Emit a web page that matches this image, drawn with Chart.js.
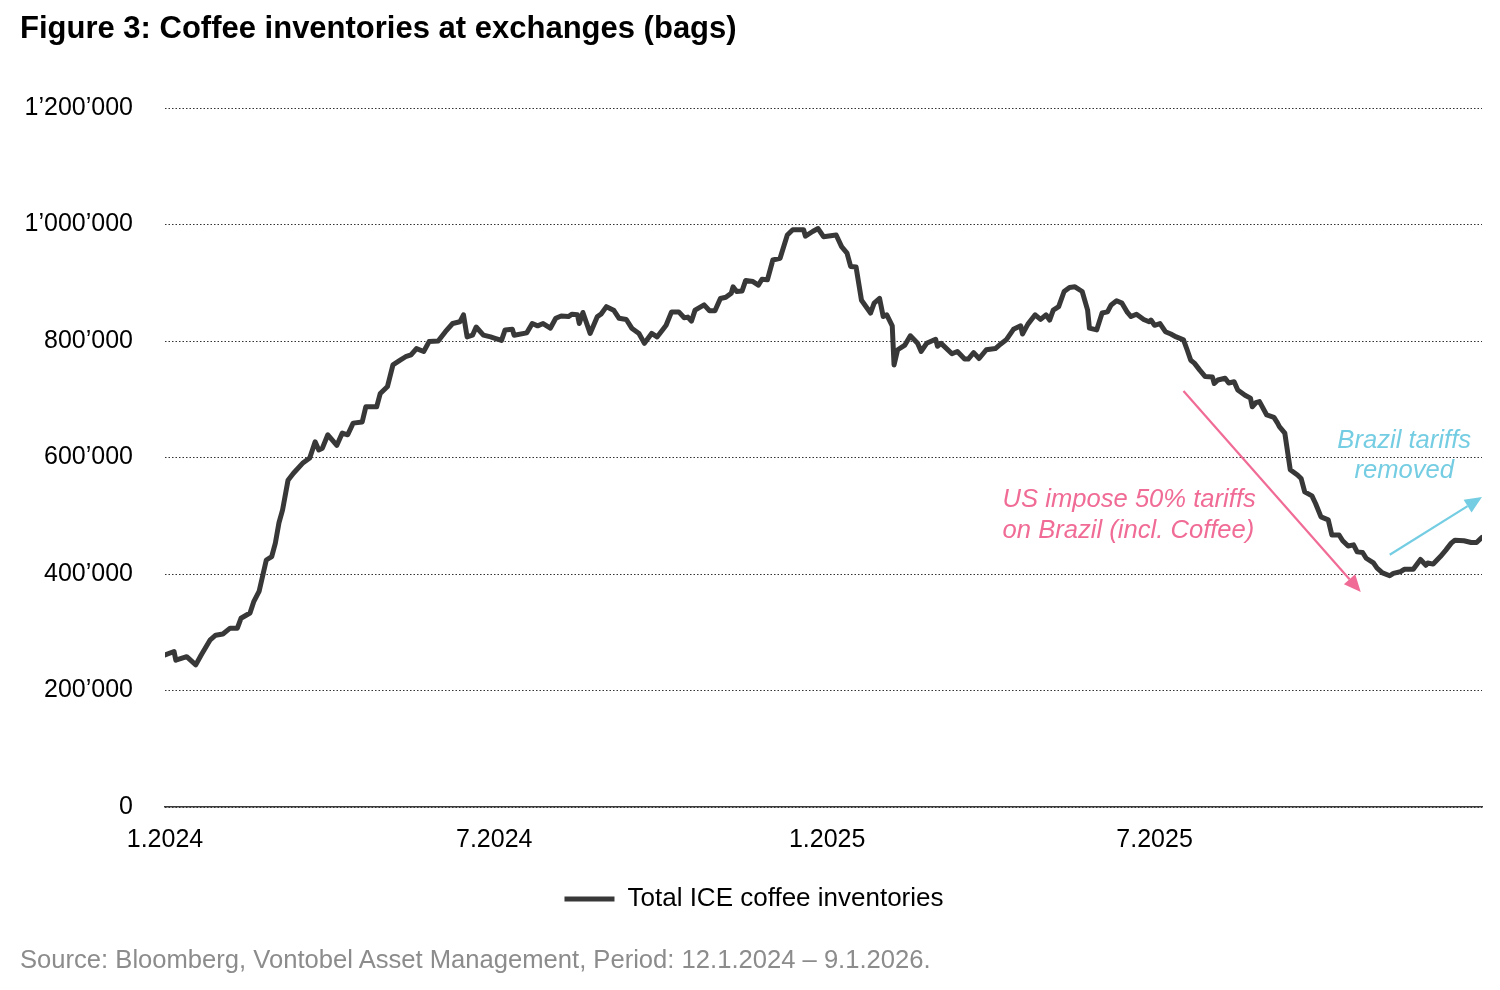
<!DOCTYPE html>
<html>
<head>
<meta charset="utf-8">
<script src="https://cdn.jsdelivr.net/npm/chart.js@4.4.1/dist/chart.umd.min.js"></script>
<style>
  html, body { margin: 0; padding: 0; background: #ffffff; }
  #wrap { position: relative; width: 1500px; height: 990px; overflow: hidden; background: #ffffff; }
  #chart { position: absolute; left: 0; top: 0; }
  #title { position: absolute; left: 20px; top: 10px; font: bold 31px "Liberation Sans", Arial, sans-serif; color: #000; white-space: nowrap; }
  #source { position: absolute; left: 20px; top: 945px; font: 25.6px "Liberation Sans", Arial, sans-serif; color: #8c8c8c; white-space: nowrap; }
</style>
</head>
<body>
<div id="wrap">
  <canvas id="chart" width="1500" height="990"></canvas>
  <div id="title">Figure 3: Coffee inventories at exchanges (bags)</div>
  <div id="source">Source: Bloomberg, Vontobel Asset Management, Period: 12.1.2024 – 9.1.2026.</div>
</div>
<script>
// ---------------- data ----------------
const seriesLabel = 'Total ICE coffee inventories';

const dates = [
  '2024-01-12','2024-01-17','2024-01-18','2024-01-24','2024-01-29','2024-02-01','2024-02-06','2024-02-09','2024-02-13','2024-02-17',
  '2024-02-21','2024-02-23','2024-02-28','2024-03-01','2024-03-04','2024-03-08','2024-03-11','2024-03-13','2024-03-15','2024-03-17',
  '2024-03-20','2024-03-23','2024-03-28','2024-04-01','2024-04-04','2024-04-06','2024-04-08','2024-04-11','2024-04-16','2024-04-19',
  '2024-04-22','2024-04-25','2024-04-30','2024-05-02','2024-05-08','2024-05-10','2024-05-14','2024-05-17','2024-05-21','2024-05-24',
  '2024-05-27','2024-05-30','2024-06-03','2024-06-06','2024-06-11','2024-06-15','2024-06-19','2024-06-23','2024-06-25','2024-06-27',
  '2024-06-30','2024-07-02','2024-07-06','2024-07-10','2024-07-12','2024-07-16','2024-07-18','2024-07-22','2024-07-23','2024-07-30',
  '2024-08-02','2024-08-05','2024-08-08','2024-08-12','2024-08-15','2024-08-18','2024-08-22','2024-08-24','2024-08-27','2024-08-28',
  '2024-08-30','2024-09-03','2024-09-07','2024-09-09','2024-09-12','2024-09-16','2024-09-19','2024-09-23','2024-09-26','2024-09-30',
  '2024-10-03','2024-10-07','2024-10-10','2024-10-13','2024-10-15','2024-10-18','2024-10-22','2024-10-25','2024-10-27','2024-10-29',
  '2024-10-31','2024-11-05','2024-11-08','2024-11-11','2024-11-14','2024-11-17','2024-11-20','2024-11-21','2024-11-23','2024-11-26',
  '2024-11-28','2024-12-02','2024-12-05','2024-12-07','2024-12-10','2024-12-13','2024-12-17','2024-12-21','2024-12-24','2024-12-30',
  '2024-12-31','2025-01-04','2025-01-07','2025-01-10','2025-01-17','2025-01-20','2025-01-23','2025-01-25','2025-01-28','2025-01-31',
  '2025-02-05','2025-02-07','2025-02-10','2025-02-12','2025-02-14','2025-02-17','2025-02-18','2025-02-20','2025-02-24','2025-02-27',
  '2025-03-03','2025-03-05','2025-03-08','2025-03-13','2025-03-14','2025-03-16','2025-03-22','2025-03-25','2025-03-29','2025-03-31',
  '2025-04-03','2025-04-06','2025-04-10','2025-04-15','2025-04-18','2025-04-21','2025-04-25','2025-04-29','2025-04-30','2025-05-03',
  '2025-05-07','2025-05-10','2025-05-13','2025-05-15','2025-05-17','2025-05-20','2025-05-23','2025-05-26','2025-05-29','2025-06-02',
  '2025-06-05','2025-06-06','2025-06-10','2025-06-13','2025-06-16','2025-06-18','2025-06-21','2025-06-24','2025-06-27','2025-06-29',
  '2025-07-02','2025-07-06','2025-07-09','2025-07-10','2025-07-12','2025-07-15','2025-07-18','2025-07-21','2025-07-24','2025-07-28',
  '2025-07-30','2025-08-01','2025-08-03','2025-08-06','2025-08-09','2025-08-13','2025-08-14','2025-08-16','2025-08-20','2025-08-22',
  '2025-08-25','2025-08-27','2025-08-31','2025-09-03','2025-09-04','2025-09-06','2025-09-08','2025-09-12','2025-09-16','2025-09-18',
  '2025-09-19','2025-09-22','2025-09-25','2025-09-29','2025-10-01','2025-10-03','2025-10-07','2025-10-09','2025-10-12','2025-10-16',
  '2025-10-18','2025-10-22','2025-10-24','2025-10-27','2025-10-30','2025-11-01','2025-11-04','2025-11-06','2025-11-10','2025-11-12',
  '2025-11-15','2025-11-19','2025-11-21','2025-11-25','2025-11-27','2025-12-02','2025-12-06','2025-12-09','2025-12-10','2025-12-13',
  '2025-12-17','2025-12-20','2025-12-23','2025-12-25','2025-12-30','2026-01-03','2026-01-06','2026-01-09'
];

const inventories = [
  261000,267000,252000,258000,244000,261000,287000,295000,297000,307000,
  307000,324000,333000,352000,370000,424000,430000,453000,488000,510000,
  561000,573000,590000,599000,627000,613000,616000,639000,621000,642000,
  639000,659000,661000,687000,687000,710000,722000,759000,767000,773000,
  776000,787000,782000,799000,800000,816000,830000,833000,845000,807000,
  810000,824000,810000,807000,805000,801000,819000,820000,810000,814000,
  830000,826000,830000,822000,839000,843000,842000,846000,845000,830000,
  849000,813000,842000,846000,859000,853000,839000,837000,822000,813000,
  796000,813000,807000,819000,827000,850000,850000,840000,841000,834000,
  853000,862000,852000,852000,873000,875000,882000,893000,885000,886000,
  904000,902000,896000,906000,905000,939000,942000,982000,991000,991000,
  980000,988000,993000,979000,982000,962000,951000,928000,927000,870000,
  848000,865000,873000,842000,845000,826000,759000,785000,793000,809000,
  796000,782000,796000,803000,791000,796000,778000,782000,769000,769000,
  780000,770000,785000,787000,795000,802000,820000,826000,812000,829000,
  845000,837000,845000,836000,853000,859000,885000,892000,893000,885000,
  853000,822000,819000,848000,850000,862000,869000,865000,849000,842000,
  846000,837000,833000,836000,827000,830000,816000,812000,807000,802000,
  785000,767000,762000,750000,739000,738000,727000,733000,736000,728000,
  730000,716000,707000,702000,687000,694000,696000,673000,669000,659000,
  653000,642000,579000,570000,564000,541000,534000,521000,498000,493000,
  467000,467000,457000,448000,450000,438000,437000,427000,419000,410000,
  402000,397000,401000,404000,408000,408000,425000,415000,419000,417000,
  430000,441000,453000,458000,457000,454000,454000,463000
];

// x-axis tick dates (every 6 months from the first observation)
const xTickDates = ['2024-01-12', '2024-07-12', '2025-01-12', '2025-07-12'];
// y-axis ticks
const yTicks = [0, 200000, 400000, 600000, 800000, 1000000, 1200000];

// annotations: [date, value]
const pinkArrow = { from: ['2025-07-28', 714000], to: ['2025-11-03', 369000] };
const pinkText = { at: ['2025-04-19', 0], lines: [['US impose 50% tariffs', 527000], ['on Brazil (incl. Coffee)', 474000]] };
const blueArrow = { from: ['2025-11-19', 433000], to: ['2026-01-09', 532000] };
const blueText = { at: ['2025-11-27', 0], lines: [['Brazil tariffs', 628000], ['removed', 577000]] };

// ---------------- helpers ----------------
const DAY = 86400000;
const t0 = Date.parse(dates[0]);
const dayOf = (s) => Math.round((Date.parse(s) - t0) / DAY);
const points = dates.map((d, i) => ({ x: dayOf(d), y: inventories[i] }));
const xTickDays = xTickDates.map(dayOf);
const xTickLabel = {};
xTickDates.forEach((d) => {
  const dt = new Date(d + 'T00:00:00Z');
  xTickLabel[dayOf(d)] = (dt.getUTCMonth() + 1) + '.' + dt.getUTCFullYear();
});
const fmt = (v) => String(v).replace(/\B(?=(\d{3})+(?!\d))/g, '\u2019');

const FONT = '"Liberation Sans", Arial, Helvetica, sans-serif';
Chart.defaults.font.family = FONT;
Chart.defaults.color = '#000000';

function drawArrow(ctx, x1, y1, x2, y2, color) {
  const ang = Math.atan2(y2 - y1, x2 - x1);
  const L = 17, W = 7.5;
  const bx = x2 - L * Math.cos(ang), by = y2 - L * Math.sin(ang);
  ctx.save();
  ctx.strokeStyle = color;
  ctx.fillStyle = color;
  ctx.lineWidth = 2.2;
  ctx.beginPath();
  ctx.moveTo(x1, y1);
  ctx.lineTo(bx, by);
  ctx.stroke();
  ctx.beginPath();
  ctx.moveTo(x2, y2);
  ctx.lineTo(bx - W * Math.sin(ang), by + W * Math.cos(ang));
  ctx.lineTo(bx + W * Math.sin(ang), by - W * Math.cos(ang));
  ctx.closePath();
  ctx.fill();
  ctx.restore();
}

const annotationPlugin = {
  id: 'annotations',
  afterLayout(chart) {
    // nudge the centred legend slightly right, as in the original
    if (chart.legend) { chart.legend.left += 13; chart.legend.right += 13; }
  },
  afterDatasetsDraw(chart) {
    const { ctx, scales: { x, y } } = chart;
    const P = (d, v) => [x.getPixelForValue(dayOf(d)), y.getPixelForValue(v)];
    const pink = '#f06b95', blue = '#74cde2';
    let a = P(...pinkArrow.from), b = P(...pinkArrow.to);
    drawArrow(ctx, a[0], a[1], b[0], b[1], pink);
    a = P(...blueArrow.from); b = P(...blueArrow.to);
    drawArrow(ctx, a[0], a[1], b[0], b[1], blue);
    ctx.save();
    ctx.font = 'italic 25.6px ' + FONT;
    ctx.textBaseline = 'middle';
    ctx.fillStyle = pink;
    ctx.textAlign = 'left';
    pinkText.lines.forEach(([t, v]) => {
      ctx.fillText(t, x.getPixelForValue(dayOf(pinkText.at[0])), y.getPixelForValue(v));
    });
    ctx.fillStyle = blue;
    ctx.textAlign = 'center';
    blueText.lines.forEach(([t, v]) => {
      ctx.fillText(t, x.getPixelForValue(dayOf(blueText.at[0])), y.getPixelForValue(v));
    });
    ctx.restore();
  }
};

new Chart(document.getElementById('chart'), {
  type: 'line',
  data: {
    datasets: [{
      label: seriesLabel,
      data: points,
      borderColor: '#383838',
      backgroundColor: '#383838',
      borderWidth: 5,
      pointRadius: 0,
      tension: 0,
      borderJoinStyle: 'round',
      borderCapStyle: 'round'
    }]
  },
  options: {
    responsive: false,
    animation: false,
    devicePixelRatio: 1,
    layout: { padding: { left: 0, right: 18, top: 108, bottom: 68 } },
    plugins: {
      title: { display: false },
      tooltip: { enabled: false },
      legend: {
        position: 'bottom',
        labels: {
          boxWidth: 50,
          boxHeight: 5,
          padding: 10,
          color: '#000',
          font: { size: 26, family: FONT },
          generateLabels: (chart) => chart.data.datasets.map((ds, i) => ({
            text: ds.label, fillStyle: '#383838', strokeStyle: 'rgba(0,0,0,0)', lineWidth: 0, datasetIndex: i
          }))
        }
      }
    },
    scales: {
      x: {
        type: 'linear',
        min: 0,
        max: dayOf(dates[dates.length - 1]),
        grid: { display: false, drawTicks: false },
        border: { display: true, color: '#3a3a3a', width: 1.5 },
        afterBuildTicks: (scale) => { scale.ticks = xTickDays.map((v) => ({ value: v })); },
        afterFit: (scale) => { scale.height = 69; },
        ticks: {
          autoSkip: false, maxRotation: 0, padding: 18,
          color: '#000', font: { size: 25 },
          callback: (v) => xTickLabel[v] || ''
        }
      },
      y: {
        min: 0,
        max: 1200000,
        afterBuildTicks: (scale) => { scale.ticks = yTicks.map((v) => ({ value: v })); },
        afterFit: (scale) => { scale.width = 165; },
        grid: { color: '#333333', lineWidth: 1, drawTicks: false },
        border: { display: false, dash: [1.5, 2] },
        ticks: { padding: 32, color: '#000', font: { size: 25 }, callback: (v) => fmt(v) }
      }
    }
  },
  plugins: [annotationPlugin]
});
</script>
</body>
</html>
